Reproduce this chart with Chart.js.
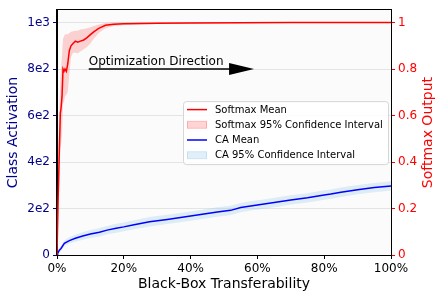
<!DOCTYPE html>
<html>
<head>
<meta charset="utf-8">
<script src="https://cdn.jsdelivr.net/npm/chart.js@4/dist/chart.umd.min.js"></script>
<style>
html,body{margin:0;padding:0;background:#fff;}
#wrap{width:444px;height:300px;position:relative;}
</style>
</head>
<body>
<div id="wrap"><canvas id="c" width="444" height="300"></canvas></div>
<script>
// ---- Data (x in % transferability) ----
const smX    = [0, 0.3, 0.7, 1.0, 1.2, 1.5, 1.8, 2.1, 2.4, 2.8, 3.2, 3.7, 4.2, 4.8, 5.5, 6.2, 7.0, 8.0, 9.0, 10.0, 11.0, 12.5, 14.5, 17, 20, 25, 30, 40, 55, 70, 85, 100];
const smMean = [0, 0.22, 0.45, 0.61, 0.63, 0.68, 0.80, 0.79, 0.80, 0.79, 0.82, 0.88, 0.90, 0.91, 0.92, 0.915, 0.92, 0.925, 0.935, 0.948, 0.96, 0.975, 0.988, 0.993, 0.995, 0.996, 0.997, 0.998, 0.999, 1.0, 1.0, 1.0];
const smUpper= [0, 0.34, 0.60, 0.76, 0.80, 0.86, 0.93, 0.94, 0.95, 0.95, 0.95, 0.955, 0.96, 0.962, 0.965, 0.965, 0.97, 0.972, 0.975, 0.98, 0.985, 0.992, 0.998, 1.0, 1.0, 1.0, 1.0, 1.001, 1.001, 1.001, 1.001, 1.001];
const smLower= [0, 0.10, 0.30, 0.46, 0.47, 0.52, 0.65, 0.66, 0.68, 0.69, 0.70, 0.78, 0.85, 0.87, 0.87, 0.868, 0.875, 0.885, 0.895, 0.91, 0.93, 0.955, 0.975, 0.985, 0.988, 0.992, 0.994, 0.995, 0.997, 0.999, 0.999, 0.999];

const caX    = [0, 0.2, 0.7, 1.2, 2.2, 3.7, 5.5, 7.7, 10, 12.7, 15, 17.7, 20, 22.7, 27.7, 33, 38, 43, 48, 52, 55, 58, 62, 66, 70, 75, 80, 82, 85, 90, 95, 100];
const caMean = [0, 7, 21, 28, 50, 62, 72, 82, 90, 98, 107, 115, 121, 129, 143, 153, 163, 174, 185, 192, 204, 211, 219, 228, 237, 246, 258, 262, 270, 281, 290, 297];
const caUpper= [3, 12, 29, 38, 62, 76, 87, 98, 107, 116, 125, 134, 140, 148, 163, 173, 183, 194, 205, 212, 224, 231, 239, 248, 257, 266, 278, 282, 290, 301, 310, 317];
const caLower= [0, 3, 14, 19, 39, 49, 57, 66, 73, 80, 89, 96, 102, 110, 123, 133, 143, 154, 165, 172, 184, 191, 199, 208, 217, 226, 238, 242, 250, 261, 270, 277];

const xTicks = [0, 20, 40, 60, 80, 100];
const leftTicks = [0, 200, 400, 600, 800, 1000];
const leftTickLabels = ['0', '2e2', '4e2', '6e2', '8e2', '1e3'];
const rightTicks = [0, 0.2, 0.4, 0.6, 0.8, 1.0];
const rightTickLabels = ['0', '0.2', '0.4', '0.6', '0.8', '1'];

const legendLabels = ['Softmax Mean', 'Softmax 95% Confidence Interval', 'CA Mean', 'CA 95% Confidence Interval'];
const annotationText = 'Optimization Direction';
const arrowFrom = {x: 9.5, y: 0.8};
const arrowTo = {x: 59, y: 0.8};

const FONT = "'DejaVu Sans', sans-serif";
const RED = '#ff0000', BLUE = '#0000ff', NAVY = '#00008b';
const RED_FILL = 'rgba(255,0,0,0.17)';
const BLUE_FILL = 'rgba(135,190,230,0.25)';

const pts = (xs, ys) => xs.map((x, i) => ({x: x, y: ys[i]}));

const bgPlugin = {
  id: 'bg',
  beforeDraw(chart) {
    const {ctx, chartArea: a} = chart;
    ctx.save();
    ctx.fillStyle = '#fbfbfb';
    ctx.fillRect(a.left, a.top, a.right - a.left, a.bottom - a.top);
    ctx.restore();
  },
  afterDatasetsDraw(chart) {
    const {ctx, chartArea: a, scales} = chart;
    const x1 = scales.x.getPixelForValue(arrowFrom.x);
    const y1 = scales.y1.getPixelForValue(arrowFrom.y);
    const x2 = scales.x.getPixelForValue(arrowTo.x);
    const headLen = 25, headHalf = 6;
    ctx.save();
    ctx.strokeStyle = '#000';
    ctx.fillStyle = '#000';
    ctx.lineWidth = 1.5;
    ctx.beginPath();
    ctx.moveTo(x1, y1);
    ctx.lineTo(x2 - headLen + 2, y1);
    ctx.stroke();
    ctx.beginPath();
    ctx.moveTo(x2, y1);
    ctx.lineTo(x2 - headLen, y1 - headHalf);
    ctx.lineTo(x2 - headLen, y1 + headHalf);
    ctx.closePath();
    ctx.fill();
    ctx.font = '12px ' + FONT;
    ctx.textAlign = 'left';
    ctx.textBaseline = 'alphabetic';
    ctx.fillText(annotationText, x1, y1 - 4);
    ctx.restore();
  },
  afterDraw(chart) {
    const {ctx, chartArea: a} = chart;
    ctx.save();
    ctx.strokeStyle = '#000';
    ctx.lineWidth = 1;
    ctx.strokeRect(Math.round(a.left) - 0.5, Math.round(a.top) - 0.5, Math.round(a.right - a.left) + 1, Math.round(a.bottom - a.top) + 1);
    ctx.save();
    ctx.translate(428, (a.top + a.bottom) / 2);
    ctx.rotate(-Math.PI / 2);
    ctx.fillStyle = RED;
    ctx.font = '14px ' + FONT;
    ctx.textAlign = 'center';
    ctx.textBaseline = 'middle';
    ctx.fillText('Softmax Output', 0, 0);
    ctx.restore();
    const w = 205, h = 63;
    const lx = a.right - 3 - w;
    const ly = (a.top + a.bottom) / 2 - h / 2;
    ctx.beginPath();
    if (ctx.roundRect) ctx.roundRect(lx + 0.5, ly + 0.5, w, h, 3); else ctx.rect(lx + 0.5, ly + 0.5, w, h);
    ctx.fillStyle = 'rgba(255,255,255,0.85)';
    ctx.fill();
    ctx.strokeStyle = '#d6d6d6';
    ctx.lineWidth = 1;
    ctx.stroke();
    ctx.font = '10px ' + FONT;
    ctx.textAlign = 'left';
    ctx.textBaseline = 'middle';
    legendLabels.forEach((lab, i) => {
      const cy = ly + 8.5 + i * 15.2;
      const sx = lx + 4, ex = lx + 24;
      if (i === 0 || i === 2) {
        ctx.strokeStyle = i === 0 ? RED : BLUE;
        ctx.lineWidth = 1.5;
        ctx.beginPath();
        ctx.moveTo(sx, cy);
        ctx.lineTo(ex, cy);
        ctx.stroke();
      } else {
        ctx.fillStyle = i === 1 ? RED_FILL : BLUE_FILL;
        ctx.fillRect(sx, cy - 3.5, ex - sx, 7);
        ctx.strokeStyle = i === 1 ? 'rgba(255,0,0,0.2)' : 'rgba(135,190,230,0.3)';
        ctx.lineWidth = 1;
        ctx.strokeRect(sx + 0.5, cy - 3.5, ex - sx - 1, 7);
      }
      ctx.fillStyle = '#000';
      ctx.fillText(lab, lx + 32, cy + 0.5);
    });
    ctx.restore();
  }
};

const line = (data, color, axis) => ({
  data: data, borderColor: color, borderWidth: 1.5, pointRadius: 0, fill: false, tension: 0, yAxisID: axis
});
const band = (data, color, axis, target) => ({
  data: data, borderColor: 'rgba(0,0,0,0)', borderWidth: 0, pointRadius: 0, backgroundColor: color,
  fill: target === null ? false : {target: target}, tension: 0, yAxisID: axis
});

new Chart(document.getElementById('c'), {
  type: 'line',
  data: {
    datasets: [
      line(pts(smX, smMean), RED, 'y1'),
      line(pts(caX, caMean), BLUE, 'y'),
      band(pts(smX, smLower), RED_FILL, 'y1', null),
      band(pts(smX, smUpper), RED_FILL, 'y1', 2),
      band(pts(caX, caLower), BLUE_FILL, 'y', null),
      band(pts(caX, caUpper), BLUE_FILL, 'y', 4)
    ]
  },
  options: {
    responsive: false,
    animation: false,
    events: [],
    layout: {padding: {top: 10, left: 0, right: 0, bottom: 0}},
    plugins: {legend: {display: false}, tooltip: {enabled: false}, filler: {propagate: false}},
    scales: {
      x: {
        type: 'linear', min: 0, max: 100,
        afterFit(s) { s.height = 45; },
        afterBuildTicks(s) { s.ticks = xTicks.map(v => ({value: v})); },
        ticks: {callback: v => v + '%', color: '#000', font: {family: FONT, size: 12}, padding: 3, maxRotation: 0},
        grid: {drawOnChartArea: false, tickLength: 4, tickColor: '#000', color: '#000'},
        border: {display: true, color: '#000'},
        title: {display: true, text: 'Black-Box Transferability', color: '#000', font: {family: FONT, size: 14}, padding: {top: 0, bottom: 7}}
      },
      y: {
        position: 'left', min: 0, max: 1053,
        afterFit(s) { s.width = 57; },
        afterBuildTicks(s) { s.ticks = leftTicks.map(v => ({value: v})); },
        ticks: {callback: (v) => leftTickLabels[leftTicks.indexOf(v)], color: NAVY, font: {family: FONT, size: 12}, padding: 3},
        grid: {color: '#e4e4e4', tickLength: 4, tickColor: NAVY, lineWidth: 1},
        border: {display: true, color: '#000'},
        title: {display: true, text: 'Class Activation', color: NAVY, font: {family: FONT, size: 14}, padding: {top: 5, bottom: 0}}
      },
      y1: {
        position: 'right', min: 0, max: 1.053,
        afterFit(s) { s.width = 53; },
        afterBuildTicks(s) { s.ticks = rightTicks.map(v => ({value: v})); },
        ticks: {callback: (v) => rightTickLabels[rightTicks.indexOf(v)], color: RED, font: {family: FONT, size: 12}, padding: 3},
        grid: {drawOnChartArea: false, tickLength: 4, tickColor: RED},
        border: {display: true, color: '#000'}
      }
    }
  },
  plugins: [bgPlugin]
});
</script>
</body>
</html>
